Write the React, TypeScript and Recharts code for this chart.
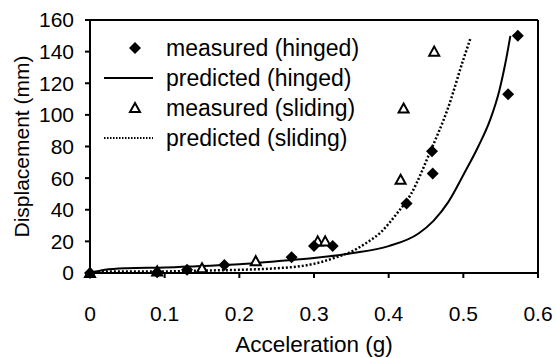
import React from 'react';
import {
  ComposedChart,
  Line,
  Scatter,
  XAxis,
  YAxis,
  Legend,
  ReferenceLine,
  Label,
} from 'recharts';

// measured points
const hingedAcc = [0, 0.09, 0.13, 0.18, 0.27, 0.3, 0.325, 0.424, 0.458, 0.459, 0.56, 0.573];
const hingedDisp = [0, 0.5, 2, 5, 10, 17, 17, 44, 77, 63, 113, 150];
const slidingAcc = [0, 0.09, 0.15, 0.222, 0.305, 0.315, 0.416, 0.42, 0.461];
const slidingDisp = [0, 1, 3, 7.5, 20, 20, 59, 104, 140];

// predicted curves
const predHingedAcc = [0, 0.02, 0.05, 0.1, 0.15, 0.2, 0.25, 0.3, 0.35, 0.4, 0.44, 0.46, 0.48, 0.5, 0.52, 0.536, 0.548, 0.556, 0.563];
const predHingedDisp = [0, 2, 3, 3.5, 4.5, 5.5, 7.5, 9.5, 12.5, 17, 25, 33, 45, 62, 80, 97, 115, 132, 150];
const predSlidingAcc = [0, 0.02, 0.1, 0.15, 0.2, 0.25, 0.285, 0.31, 0.33, 0.35, 0.37, 0.39, 0.41, 0.43, 0.455, 0.48, 0.5, 0.51];
const predSlidingDisp = [0, 1, 1, 1.5, 2, 3, 4.5, 7, 10, 13.5, 19, 26, 37, 50, 76, 105, 135, 149];

const xTicks = [0, 0.1, 0.2, 0.3, 0.4, 0.5, 0.6];
const yTicks = [0, 20, 40, 60, 80, 100, 120, 140, 160];
const seriesNames = ['measured (hinged)', 'predicted (hinged)', 'measured (sliding)', 'predicted (sliding)'];

const zip = (xs: number[], ys: number[]) => xs.map((x, i) => ({ x, y: ys[i] }));

const Diamond = (props: any) => {
  const { cx, cy } = props;
  return <polygon points={`${cx},${cy - 6} ${cx + 6},${cy} ${cx},${cy + 6} ${cx - 6},${cy}`} fill="#000" />;
};

const Triangle = (props: any) => {
  const { cx, cy } = props;
  return (
    <polygon
      points={`${cx},${cy - 5} ${cx + 5},${cy + 4} ${cx - 5},${cy + 4}`}
      fill="#fff"
      stroke="#000"
      strokeWidth={2}
    />
  );
};

const LegendBox = () => (
  <div style={{ fontSize: 23, color: '#000', lineHeight: '28px' }}>
    {seriesNames.map((name, i) => (
      <div key={name} style={{ display: 'flex', alignItems: 'center', height: 30 }}>
        <svg width={62} height={28}>
          {i === 0 && <Diamond cx={33} cy={14} />}
          {i === 1 && <line x1={2} x2={51} y1={14} y2={14} stroke="#000" strokeWidth={2} />}
          {i === 2 && <Triangle cx={33} cy={14} />}
          {i === 3 && <line x1={2} x2={51} y1={14} y2={14} stroke="#000" strokeWidth={2} strokeDasharray="1.5 1.5" />}
        </svg>
        <span style={{ marginLeft: 2 }}>{name}</span>
      </div>
    ))}
  </div>
);

export default function App() {
  const tickStyle = { fill: '#000', fontSize: 21 };
  return (
    <div style={{ position: 'absolute', left: 0, top: 0, fontFamily: '"Liberation Sans", Arial, sans-serif' }}>
      <ComposedChart width={556} height={358} margin={{ top: 20, right: 18, bottom: 0, left: 0 }}>
        <XAxis
          dataKey="x"
          type="number"
          domain={[0, 0.6]}
          ticks={xTicks}
          height={85}
          tick={tickStyle}
          tickSize={5}
          tickMargin={28}
          stroke="#000"
          strokeWidth={2}
        >
          <Label value="Acceleration (g)" position="insideBottom" offset={6} style={{ fill: '#000', fontSize: 22.5 }} />
        </XAxis>
        <YAxis
          dataKey="y"
          type="number"
          domain={[0, 160]}
          ticks={yTicks}
          width={90}
          tick={tickStyle}
          tickSize={5}
          tickMargin={11}
          stroke="#000"
          strokeWidth={2}
        >
          <Label value="Displacement (mm)" angle={-90} position="insideLeft" offset={22} style={{ fill: '#000', fontSize: 21, textAnchor: 'middle' }} />
        </YAxis>
        <ReferenceLine y={160} stroke="#000" strokeWidth={2} />
        <ReferenceLine x={0.6} stroke="#000" strokeWidth={2} />
        <Legend
          content={<LegendBox />}
          layout="vertical"
          verticalAlign="middle"
          align="center"
          wrapperStyle={{ position: 'absolute', left: 102, top: 33, width: 320 }}
        />
        <Line
          data={zip(predHingedAcc, predHingedDisp)}
          dataKey="y"
          type="monotone"
          stroke="#000"
          strokeWidth={2}
          dot={false}
          isAnimationActive={false}
          name={seriesNames[1]}
        />
        <Line
          data={zip(predSlidingAcc, predSlidingDisp)}
          dataKey="y"
          type="monotone"
          stroke="#000"
          strokeWidth={2.5}
          strokeDasharray="2 2"
          dot={false}
          isAnimationActive={false}
          name={seriesNames[3]}
        />
        <Scatter
          data={zip(slidingAcc, slidingDisp)}
          dataKey="y"
          shape={<Triangle />}
          isAnimationActive={false}
          name={seriesNames[2]}
        />
        <Scatter
          data={zip(hingedAcc, hingedDisp)}
          dataKey="y"
          shape={<Diamond />}
          isAnimationActive={false}
          name={seriesNames[0]}
        />
      </ComposedChart>
    </div>
  );
}
